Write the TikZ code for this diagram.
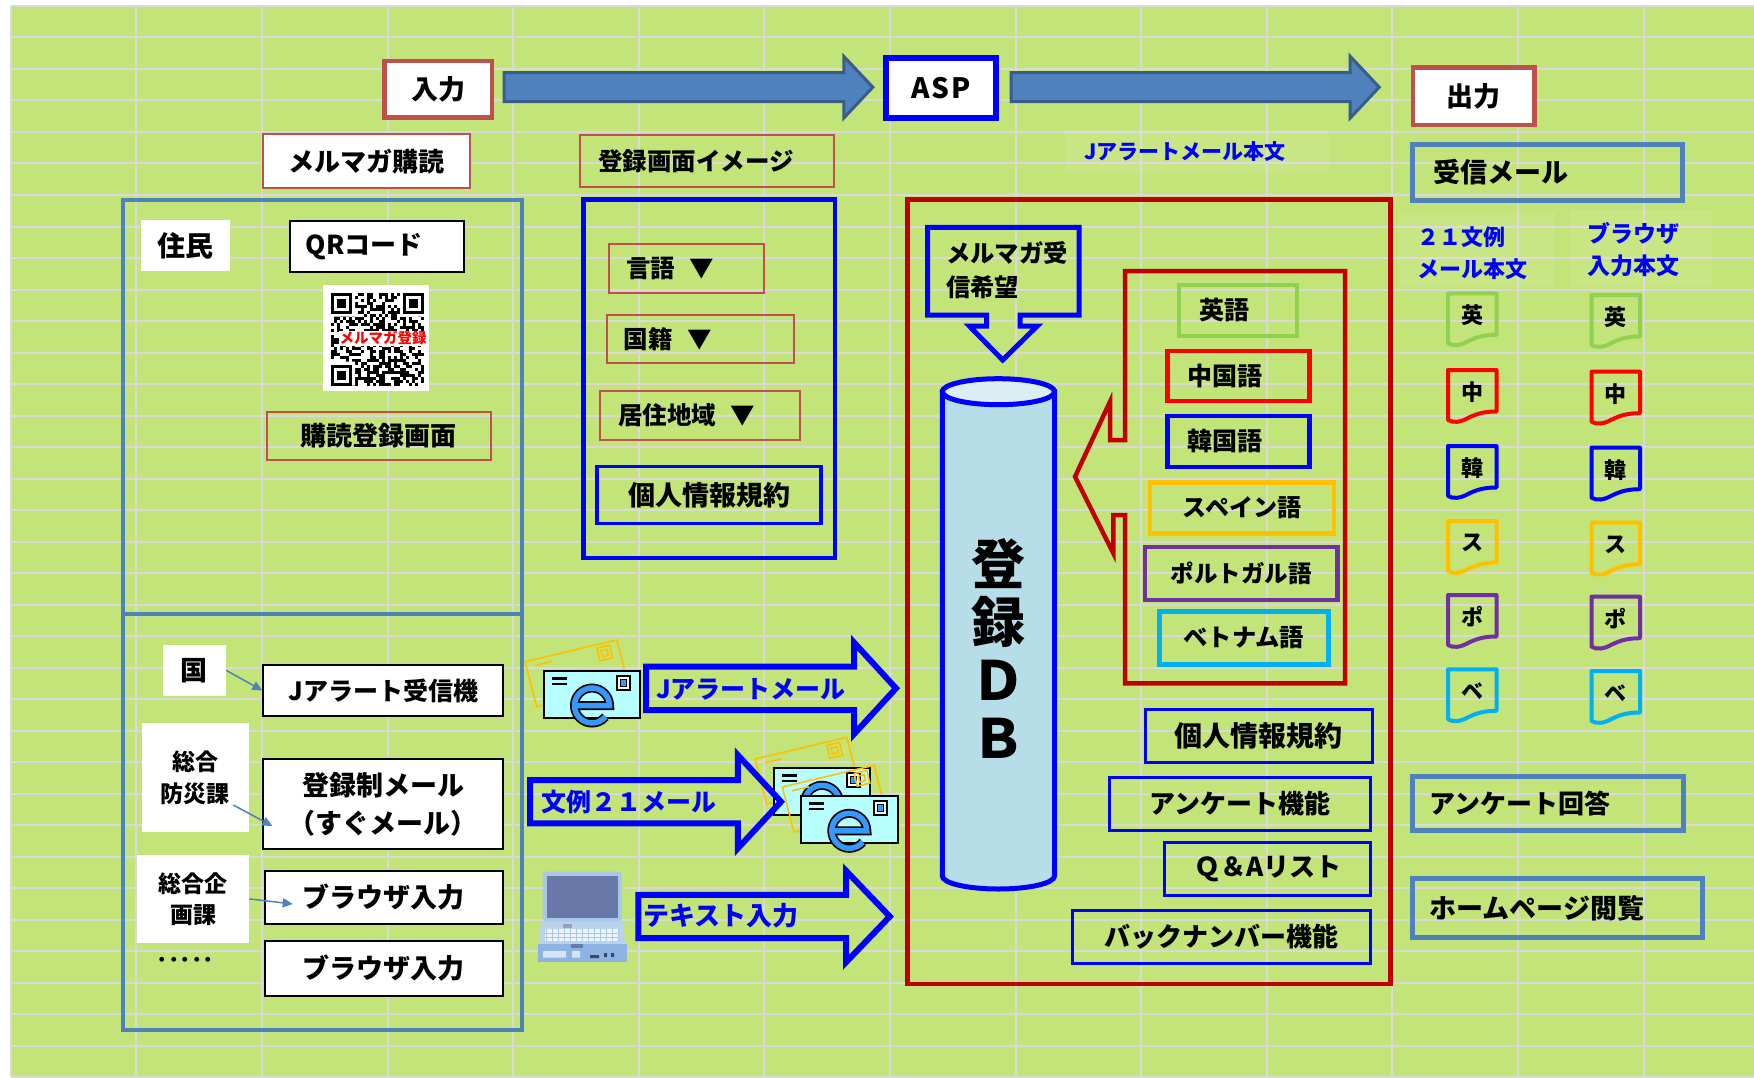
\documentclass[tikz,border=0pt]{standalone}
\usepackage{fontspec}
\setmainfont{Noto Sans CJK JP}
\usepackage{xcolor}
\usetikzlibrary{arrows.meta}

\newlength{\pxu}
\setlength{\pxu}{0.22mm}
\newcommand{\fsz}[2]{\fontsize{\fpeval{#1*0.626}pt}{\fpeval{#2*0.626}pt}\selectfont}

\definecolor{sheet}{RGB}{195,228,120}
\definecolor{sheetgrid}{RGB}{217,217,217}
\definecolor{frameblue}{RGB}{79,129,189}
\definecolor{darkframe}{RGB}{56,93,138}
\definecolor{softred}{RGB}{192,80,77}
\definecolor{deepred}{RGB}{192,0,0}
\definecolor{pureblue}{RGB}{0,0,255}
\definecolor{engreen}{RGB}{146,208,80}
\definecolor{cnred}{RGB}{255,0,0}
\definecolor{esorange}{RGB}{255,192,0}
\definecolor{ptpurple}{RGB}{112,48,160}
\definecolor{vncyan}{RGB}{0,176,240}
\definecolor{dbfill}{RGB}{183,222,232}
\definecolor{dbtop}{RGB}{218,238,243}
\definecolor{mailcyan}{RGB}{183,255,255}
\definecolor{mailblue}{RGB}{51,153,255}
\definecolor{lidblue}{RGB}{168,200,232}
\definecolor{screenblue}{RGB}{104,120,168}
\definecolor{laptopbase}{RGB}{141,179,226}

% [style]{tail x}{tip x}{mid y}{shaft half}{head half}{head length}
\newcommand{\fatarrow}[7]{%
  \draw[#1] (#2,#4-#5) -- (#3-#7,#4-#5) -- (#3-#7,#4-#6) -- (#3,#4)
    -- (#3-#7,#4+#6) -- (#3-#7,#4+#5) -- (#2,#4+#5) -- cycle;}

% {name}{x}{y}{colour}{letter}
\newcommand{\docicon}[5]{%
  \begin{scope}[shift={(#2,#3)}]
    \draw[#4, line width=4\pxu, line join=round]
      (0,0) -- (48.5,0) -- (48.5,41.5) .. controls (38,41.5) and (30,43) .. (20,48)
      .. controls (12,52.5) and (5,53) .. (0,50) -- cycle;
    \node[doclabel] (#1) at (24.3,22) {#5};
  \end{scope}}

% {name}{x}{y}: top left corner of the card
\newcommand{\mailicon}[3]{%
  \begin{scope}[shift={(#2,#3)}]
    \draw[esorange, line width=1.6\pxu] (-17.7,-8.3) -- (74,-30) -- (85.7,15) -- (-6,36.7) -- cycle;
    \draw[esorange, line width=1.6\pxu, rotate around={13.3:(62,-17)}]
      (55.5,-23.5) rectangle (68.5,-10.5) (59,-20) rectangle (65,-14);
    \draw[esorange, line width=1.6\pxu] (-8,-4.5) -- (9,-8.5);
    \node[draw=black, fill=mailcyan, line width=2\pxu, minimum width=96.6\pxu,
      minimum height=46.7\pxu, inner sep=0, anchor=north west] (#1) at (0,0) {};
    \draw[line width=2.5\pxu] (9,8.3) -- (24,8.3) (9,13.8) -- (24,13.8);
    \filldraw[fill=white, line width=2\pxu] (74,5.7) rectangle (87.3,20);
    \filldraw[fill=mailblue, line width=0.8\pxu] (77.5,9.5) rectangle (83.5,16);
    \draw[line width=9\pxu] (31.8,35.5) -- (66.8,35.5) arc[start angle=0, end angle=-320, radius=17.5];
    \draw[mailblue, line width=5.5\pxu] (31.8,35.5) -- (66.8,35.5) arc[start angle=0, end angle=-320, radius=17.5];
  \end{scope}}

\begin{document}
\begin{tikzpicture}[x=0.22mm, y=-0.22mm]
  \tikzstyle{gridline}=[draw=sheetgrid, line width=2\pxu]
  \tikzstyle{bigbox}=[draw=softred, fill=white, line width=4.5\pxu, inner sep=0, font=\bfseries\fsz{27}{30}]
  \tikzstyle{thinbox}=[draw=softred, line width=2\pxu, inner sep=0, font=\bfseries\fsz{26}{30}]
  \tikzstyle{whitebox}=[fill=white, inner sep=0, font=\bfseries\fsz{26}{30}]
  \tikzstyle{plainbox}=[draw=black, fill=white, line width=2\pxu, inner sep=0, font=\bfseries\fsz{26}{30}]
  \tikzstyle{langbox}=[line width=4.5\pxu, inner sep=0, font=\bfseries\fsz{25}{30}]
  \tikzstyle{funcbox}=[draw=pureblue, line width=3\pxu, inner sep=0, font=\bfseries\fsz{26}{30}]
  \tikzstyle{outbox}=[draw=frameblue, line width=5\pxu, inner sep=0, font=\bfseries\fsz{26}{30}]
  \tikzstyle{bluetext}=[text=pureblue, inner sep=0, font=\bfseries\fsz{22}{32}]
  \tikzstyle{arrowtext}=[text=pureblue, inner sep=0, anchor=west, font=\bfseries\fsz{25}{30}]
  \tikzstyle{doclabel}=[inner sep=0, font=\bfseries\fsz{22}{24}]
  \tikzstyle{link}=[draw=frameblue, line width=1.5\pxu, -{Triangle[length=2.2mm,width=2mm]}]
  \tikzstyle{flow arrow}=[fill=frameblue, draw=darkframe, line width=3\pxu]
  \tikzstyle{hollow arrow}=[draw=pureblue, line width=6\pxu, line join=miter]

  \useasboundingbox (0,0) rectangle (1754,1077);
  \fill[white] (0,0) rectangle (1754,1077);
  \fill[sheet] (10.7,6) rectangle (1754,1077);
  \foreach \k in {0,...,13} \draw[gridline] ({10.7+125.6*\k},6) -- ({10.7+125.6*\k},1077);
  \foreach \k in {0,...,34} \draw[gridline] (10.7,{6+31.5*\k}) -- (1754,{6+31.5*\k});
  \fill[white, opacity=0.1] (1064.7,130) rectangle (1329,173);
  \fill[white, opacity=0.1] (1398.5,213) rectangle (1554.5,286.7);
  \fill[white, opacity=0.1] (1570,210) rectangle (1712.4,286.7);

  \node[bigbox, minimum width=107.2\pxu, minimum height=56.3\pxu] (nyu) at (438.2,89.2) {入力};
  \node[bigbox, draw=pureblue, line width=6\pxu, minimum width=110.4\pxu, minimum height=60\pxu,
    font=\bfseries\fsz{28}{30}] (asp) at (941.2,88.3) {A\hspace{2\pxu}S\hspace{2\pxu}P};
  \node[bigbox, minimum width=121.4\pxu, minimum height=57.3\pxu] (shutsu) at (1473.7,96.3) {出力};
  \fatarrow{flow arrow}{504}{872.8}{87.2}{14.5}{30.8}{29}
  \fatarrow{flow arrow}{1011}{1379.2}{87.2}{14.5}{30.8}{29}

  \node[thinbox, fill=white, minimum width=206.7\pxu, minimum height=54.3\pxu] (koudoku) at (366.7,161.2) {メルマガ購読};
  \node[thinbox, minimum height=51.7\pxu, text width=218.4\pxu, inner xsep=17.6\pxu, align=left,
    font=\bfseries\fsz{24.5}{30}] (image) at (707.2,160.9) {登録画面イメージ};
  \node[bluetext, font=\bfseries\fsz{21}{30}] (jbody) at (1184.7,152) {Jアラートメール本文};
  \node[outbox, minimum height=55\pxu, text width=228.8\pxu, inner xsep=21\pxu, align=left,
    font=\bfseries\fsz{27}{30}] (jushin) at (1547.4,172.5) {受信メール};

  \draw[frameblue, line width=4\pxu] (123,200) rectangle (522.4,1030) (123,614) -- (522.4,614);
  \node[whitebox, minimum width=88.8\pxu, minimum height=50.7\pxu, font=\bfseries\fsz{28}{30}] (jumin) at (185.2,245.4) {住民};
  \node[plainbox, minimum height=51.6\pxu, text width=142.5\pxu, inner xsep=16\pxu, align=left] (qr) at (377,246.5) {QRコード};

  \fill[white] (323.4,285) rectangle (428.6,390.7);
  \pgfmathsetseed{7}
  \foreach \i in {0,...,30} \foreach \j in {0,...,30} {
    \pgfmathparse{rnd}
    \ifdim\pgfmathresult pt<0.5pt \fill (331+3*\i,292.7+3*\j) rectangle ++(3,3); \fi
  }
  \fill[white] (331,292.7) rectangle ++(24,24) (400,292.7) rectangle ++(24,24) (331,361.7) rectangle ++(24,24);
  \foreach \fx/\fy in {331/292.7, 403/292.7, 331/364.7} {
    \fill (\fx,\fy) rectangle ++(21,21);
    \fill[white] (\fx+3,\fy+3) rectangle ++(15,15);
    \fill (\fx+6,\fy+6) rectangle ++(9,9);
  }
  \node[fill=white, inner sep=0.5pt, text=cnred, font=\bfseries\fsz{14.5}{16}] (qrtext) at (383,338.3) {メルマガ登録};

  \node[thinbox, minimum width=223.9\pxu, minimum height=48.1\pxu] (toroku) at (378.7,435.7) {購読登録画面};

  \node[whitebox, minimum width=63.2\pxu, minimum height=50.7\pxu, font=\bfseries\fsz{27}{30}] (kuni) at (194.4,670.4) {国};
  \node[plainbox, minimum width=239.7\pxu, minimum height=51\pxu, font=\bfseries\fsz{25}{30}] (jrecv) at (383.2,690.5) {Jアラート受信機};
  \node[whitebox, minimum width=107.2\pxu, minimum height=108.4\pxu, align=center,
    font=\bfseries\fsz{23}{32}] (bousai) at (195.4,777.5) {総合\\防災課};
  \node[plainbox, minimum width=239.7\pxu, minimum height=89.4\pxu, align=center,
    font=\bfseries\fsz{27}{37.7}] (sugu) at (383.2,804) {登録制メール\\（すぐメール）};
  \node[whitebox, minimum width=111.8\pxu, minimum height=87.7\pxu, align=center,
    font=\bfseries\fsz{23}{31}] (kikaku) at (193.1,898.9) {総合企\\画課};
  \node[plainbox, minimum width=238.2\pxu, minimum height=53.3\pxu, font=\bfseries\fsz{27}{30}] (browser1) at (383.9,897.4) {ブラウザ入力};
  \node[plainbox, minimum width=238.2\pxu, minimum height=55\pxu, font=\bfseries\fsz{27}{30}] (browser2) at (383.9,968.2) {ブラウザ入力};
  \node[inner sep=0, font=\bfseries\fsz{23}{30}] (etc) at (185.4,962.7) {･････};

  \draw[link] (kuni.east) -- (jrecv.west);
  \draw[link] ([shift={(-16,-27)}]bousai.south east) -- ([shift={(10,22)}]sugu.west);
  \draw[link] (kikaku.east) -- ([shift={(29,6.6)}]browser1.west);

  \draw[pureblue, line width=4.5\pxu] (583.5,199.3) rectangle (834.8,558);
  \node[thinbox, minimum height=49.3\pxu, text width=120.8\pxu, inner xsep=17.5\pxu, align=left,
    font=\bfseries\fsz{24.5}{30}] (gengo) at (686.4,268.7) {言語\hspace{0.6em}▼};
  \node[thinbox, minimum height=47.4\pxu, text width=153.4\pxu, inner xsep=16.7\pxu, align=left,
    font=\bfseries\fsz{24.5}{30}] (kokuseki) at (700.4,339) {国籍\hspace{0.6em}▼};
  \node[thinbox, minimum height=48.9\pxu, text width=164.4\pxu, inner xsep=18\pxu, align=left,
    font=\bfseries\fsz{24.5}{30}] (kyoju) at (700.2,415.2) {居住地域\hspace{0.6em}▼};
  \node[funcbox, line width=3.5\pxu, minimum width=224\pxu, minimum height=57\pxu,
    font=\bfseries\fsz{27}{30}] (kojin1) at (709,495) {個人情報規約};

  \draw[deepred, line width=4.5\pxu] (907.7,199.3) rectangle (1390.5,984);
  \draw[pureblue, line width=5\pxu, line join=miter] (927.7,227.3) -- (1079,227.3) -- (1079,315)
    -- (1020,315) -- (1020,326) -- (1037.3,326) -- (1002.7,360) -- (969.3,326) -- (986.7,326)
    -- (986.7,315) -- (927.7,315) -- cycle;
  \node[inner sep=0, anchor=west, align=left, font=\bfseries\fsz{24.3}{34}] (kibou) at (946,270.3) {メルマガ受\\信希望};

  \filldraw[fill=dbfill, draw=pureblue, line width=5\pxu] (942.3,391.7) -- (942.3,876)
    arc[start angle=180, end angle=0, x radius=56.1, y radius=13] -- (1054.5,391.7) -- cycle;
  \filldraw[fill=dbtop, draw=pureblue, line width=5\pxu] (998.4,391.7) ellipse[x radius=56.1, y radius=13];
  \node[inner sep=0, align=center, font=\bfseries\fsz{54}{58}] (db) at (998.4,648.4) {登\\録\\Ｄ\\Ｂ};

  \draw[deepred, line width=4.5\pxu, line join=miter] (1125,271) -- (1345,271) -- (1345,683.3)
    -- (1125,683.3) -- (1125,515) -- (1113.3,515) -- (1113.3,553.3) -- (1075,476.7)
    -- (1110,401.7) -- (1110,440) -- (1125,440) -- cycle;
  \node[langbox, draw=engreen, line width=4\pxu, minimum height=51\pxu, text width=78\pxu,
    inner xsep=20\pxu, align=left] (eigo) at (1238.3,310.5) {英語};
  \node[langbox, draw=cnred, minimum height=50\pxu, text width=102\pxu, inner xsep=20\pxu,
    align=left] (chugoku) at (1238.3,376) {中国語};
  \node[langbox, draw=pureblue, minimum height=50.7\pxu, text width=102\pxu, inner xsep=20\pxu,
    align=left] (kankoku) at (1238.3,441.4) {韓国語};
  \node[langbox, draw=esorange, minimum width=184\pxu, minimum height=50.6\pxu, font=\bfseries\fsz{24}{30}] (spain) at (1242,508) {スペイン語};
  \node[langbox, draw=ptpurple, minimum width=192.3\pxu, minimum height=53.3\pxu, font=\bfseries\fsz{23.5}{30}] (porto) at (1241.2,573.4) {ポルトガル語};
  \node[langbox, draw=vncyan, minimum width=169\pxu, minimum height=52.6\pxu, font=\bfseries\fsz{24.3}{30}] (viet) at (1243.8,638) {ベトナム語};

  \node[funcbox, minimum width=226.7\pxu, minimum height=53.3\pxu, font=\bfseries\fsz{28}{30}] (kojin2) at (1258.7,735.7) {個人情報規約};
  \node[funcbox, minimum width=261.3\pxu, minimum height=53.4\pxu] (enquete) at (1240.2,804) {アンケート機能};
  \node[funcbox, minimum width=206.5\pxu, minimum height=53.4\pxu] (qa) at (1267.6,869) {Ｑ＆Aリスト};
  \node[funcbox, minimum width=298.8\pxu, minimum height=53.3\pxu] (backno) at (1221.4,936.7) {バックナンバー機能};

  \node[bluetext, anchor=west, align=left] (bunrei) at (1417,253.3) {２１文例\\メール本文};
  \node[bluetext, anchor=west, align=left, font=\bfseries\fsz{23}{32.4}] (browsertext) at (1587,249.5) {ブラウザ\\入力本文};
  \foreach \col/\ch/\ypos [count=\n] in {engreen/英/293.3, cnred/中/370, pureblue/韓/446,
      esorange/ス/521, ptpurple/ポ/595, vncyan/ベ/669.3} {
    \docicon{mailbody-\n}{1448}{\ypos}{\col}{\ch}
    \docicon{browserbody-\n}{1591.5}{\ypos+1.7}{\col}{\ch}
  }
  \node[outbox, minimum height=54.7\pxu, text width=236.4\pxu, inner xsep=17.3\pxu, align=left] (kaitou) at (1547.8,803.4) {アンケート回答};
  \node[outbox, minimum height=58.6\pxu, text width=255.5\pxu, inner xsep=17.3\pxu, align=left,
    font=\bfseries\fsz{27}{30}] (hp) at (1557.4,908) {ホームページ閲覧};

  \mailicon{mail1}{542.7}{670}
  \mailicon{mail2}{772.7}{767.3}
  \mailicon{mail3}{800}{795.3}

  \fill[lidblue, rounded corners=2pt] (542.7,871.7) rectangle (621.7,921.7);
  \fill[screenblue] (546.7,875.5) rectangle (618.3,918);
  \fill[lidblue!80!white] (541,921.7) -- (623,921.7) -- (625,943.5) -- (539,943.5) -- cycle;
  \fill[white!80!lidblue] (545,929) rectangle (619,941);
  \foreach \k in {0,...,12} \draw[lidblue, line width=0.6\pxu] ({546+6*\k},929) -- ({546+6*\k},941);
  \draw[lidblue, line width=0.6\pxu] (545,933) -- (619,933) (545,937) -- (619,937);
  \fill[screenblue!70!white] (563,923.5) rectangle (572,928);
  \fill[laptopbase] (538.3,943.5) rectangle (626.7,961.7);
  \fill[white!65!laptopbase] (543,951) rectangle (566,957.5) (572,951) rectangle (580,957.5);
  \fill[screenblue!60!black] (590,955) rectangle (599,958) (604,953) rectangle (607,957) (611,953) rectangle (614,957);
  \fill[screenblue] (571,944) rectangle (583,948);

  \fatarrow{hollow arrow}{646}{896}{688.3}{21.7}{45.8}{42}
  \fatarrow{hollow arrow}{530}{781}{801.7}{21.7}{46.7}{43.2}
  \fatarrow{hollow arrow}{638.3}{889.8}{916.5}{21.7}{45.8}{43.8}
  \node[arrowtext] (jmail) at (656,689) {Jアラートメール};
  \node[arrowtext] (bunreimail) at (541,801.7) {文例２１メール};
  \node[arrowtext, font=\bfseries\fsz{26}{30}] (textin) at (643.4,916) {テキスト入力};
\end{tikzpicture}
\end{document}
